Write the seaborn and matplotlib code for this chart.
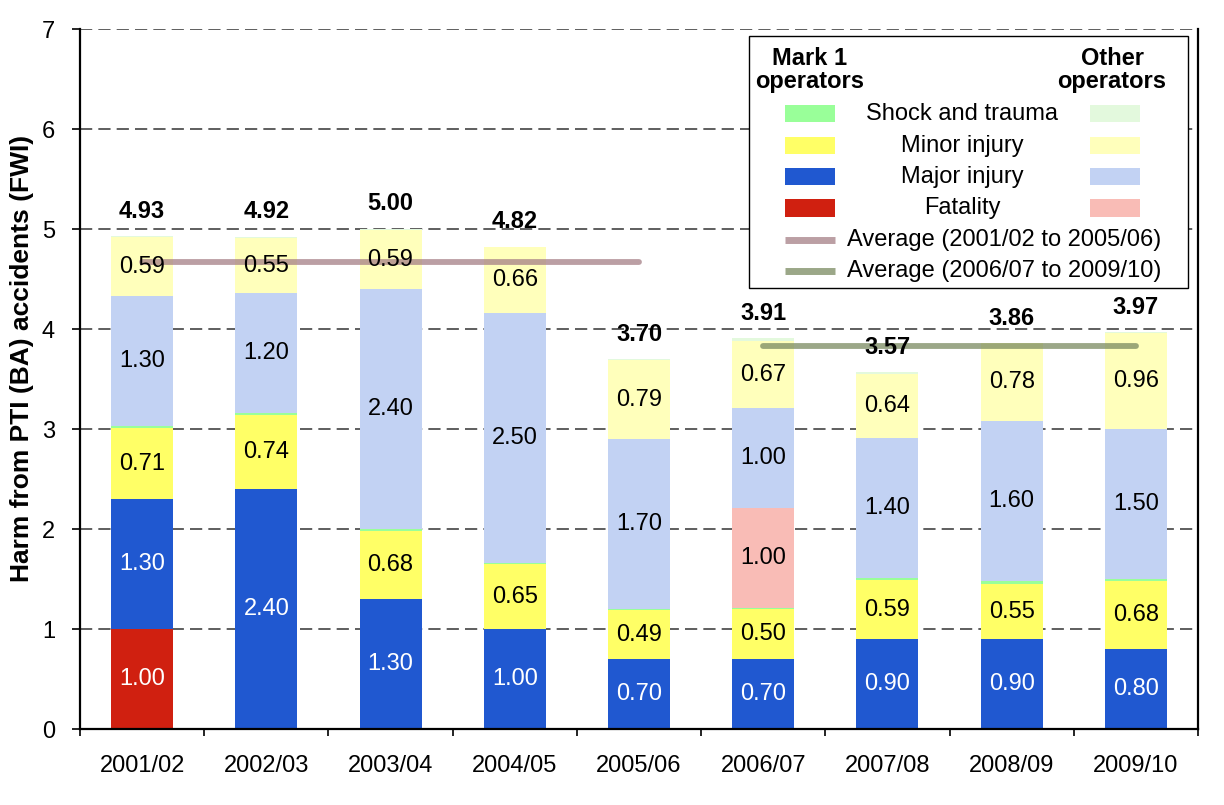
import numpy as np
import pandas as pd
import matplotlib
matplotlib.use("Agg")
import matplotlib.pyplot as plt
from matplotlib.patches import Rectangle
from matplotlib.lines import Line2D
import seaborn as sns

# ---------------- data ----------------
years = ['2001/02', '2002/03', '2003/04', '2004/05', '2005/06',
         '2006/07', '2007/08', '2008/09', '2009/10']
m1_fatal = [1.00, 0, 0, 0, 0, 0, 0, 0, 0]
m1_major = [1.30, 2.40, 1.30, 1.00, 0.70, 0.70, 0.90, 0.90, 0.80]
m1_minor = [0.71, 0.74, 0.68, 0.65, 0.49, 0.50, 0.59, 0.55, 0.68]
m1_shock = [0.02, 0.02, 0.02, 0.01, 0.01, 0.01, 0.02, 0.03, 0.02]
ot_fatal = [0, 0, 0, 0, 0, 1.00, 0, 0, 0]
ot_major = [1.30, 1.20, 2.40, 2.50, 1.70, 1.00, 1.40, 1.60, 1.50]
ot_minor = [0.59, 0.55, 0.59, 0.66, 0.79, 0.67, 0.64, 0.78, 0.96]
ot_shock = [0.01, 0.01, 0.01, 0.00, 0.01, 0.03, 0.02, 0.00, 0.01]
totals = [4.93, 4.92, 5.00, 4.82, 3.70, 3.91, 3.57, 3.86, 3.97]
period1 = ['2001/02', '2005/06']
period2 = ['2006/07', '2009/10']

# ---------------- style ----------------
plt.rcParams['font.family'] = ['Liberation Sans', 'DejaVu Sans']
FS = 17

layers = [
    ('m1_fatal', m1_fatal, '#D02010', 'white'),
    ('m1_major', m1_major, '#2058D0', 'white'),
    ('m1_minor', m1_minor, '#FFFF66', 'black'),
    ('m1_shock', m1_shock, '#99FF99', None),
    ('ot_fatal', ot_fatal, '#F9BCB6', 'black'),
    ('ot_major', ot_major, '#C2D2F3', 'black'),
    ('ot_minor', ot_minor, '#FFFFBB', 'black'),
    ('ot_shock', ot_shock, '#E3F9DD', None),
]

rows = []
cum = np.zeros(len(years))
bottoms = {}
for name, vals, color, tc in layers:
    bottoms[name] = cum.copy()
    cum = cum + np.array(vals, dtype=float)
    for yr, c in zip(years, cum):
        rows.append(dict(year=yr, layer=name, top=c))
df = pd.DataFrame(rows)
palette = {name: color for name, vals, color, tc in layers}
hue_order = [l[0] for l in layers][::-1]

fig = plt.figure(figsize=(12.24, 8.05), dpi=100)
ax = fig.add_axes([80 / 1224, 1 - 729 / 805, 1118 / 1224, 700 / 805])

sns.barplot(data=df, x='year', y='top', hue='layer', hue_order=hue_order,
            order=years, palette=palette, dodge=False, width=0.5,
            saturation=1, errorbar=None, legend=False, linewidth=0, ax=ax)

# segment labels
for name, vals, color, tc in layers:
    if tc is None:
        continue
    for i, v in enumerate(vals):
        if v > 0:
            ax.text(i, bottoms[name][i] + v / 2, f"{v:.2f}", ha='center',
                    va='center', fontsize=FS, color=tc, zorder=6)

# totals
for i, t in enumerate(totals):
    ax.text(i, t + 0.25, f"{t:.2f}", ha='center', va='center', fontsize=FS,
            fontweight='bold', color='black', zorder=7)

# averages
avg1 = np.mean(totals[years.index(period1[0]):years.index(period1[1]) + 1])
avg2 = np.mean(totals[years.index(period2[0]):years.index(period2[1]) + 1])
c_avg1 = '#A57F86'
c_avg2 = '#7A8A60'
ax.plot([years.index(period1[0]), years.index(period1[1])], [avg1, avg1],
        color=c_avg1, alpha=0.75, lw=4.2, solid_capstyle='round', zorder=5)
ax.plot([years.index(period2[0]), years.index(period2[1])], [avg2, avg2],
        color=c_avg2, alpha=0.75, lw=4.2, solid_capstyle='round', zorder=5)

# axes formatting
ax.set_xlim(-0.5, len(years) - 0.5)
ax.set_ylim(0, 7)
ax.set_yticks(range(0, 8))
ax.yaxis.grid(True, linestyle=(0, (8, 4)), color='#333333', linewidth=1.1)
ax.xaxis.grid(False)
ax.set_axisbelow(True)
ax.set_facecolor('white')
for s in ['left', 'bottom', 'right']:
    ax.spines[s].set_visible(True)
    ax.spines[s].set_color('black')
    ax.spines[s].set_linewidth(1.6)
ax.spines['top'].set_visible(False)
ax.tick_params(axis='y', direction='out', length=6, width=1.2, pad=12,
               labelsize=FS, right=False)
ax.tick_params(axis='x', which='major', length=0, pad=19, labelsize=FS)
ax.set_xticks(np.arange(-0.5, len(years), 1.0), minor=True)
ax.tick_params(axis='x', which='minor', direction='out', length=5, width=1.2)
ax.set_xlabel('')
ax.set_ylabel('Harm from PTI (BA) accidents (FWI)', fontsize=19,
              fontweight='bold')
ax.yaxis.set_label_coords(-0.041, 0.53)

# ---------------- legend (manual, axes fraction) ----------------
def fx(px):
    return (px - 80) / 1118

def fy(py):
    return (729 - py) / 700

tr = ax.transAxes
ax.add_patch(Rectangle((fx(749), fy(288)), fx(1188) - fx(749), fy(36) - fy(288),
                       transform=tr, facecolor='white', edgecolor='black',
                       linewidth=1.0, zorder=10))
ax.text(fx(810), fy(70), 'Mark 1\noperators', transform=tr, ha='center',
        va='center', fontsize=FS, fontweight='bold', linespacing=1.0, zorder=11)
ax.text(fx(1112), fy(70), 'Other\noperators', transform=tr, ha='center',
        va='center', fontsize=FS, fontweight='bold', linespacing=1.0, zorder=11)

leg_rows = [
    ('Shock and trauma', '#99FF99', '#E3F9DD', 114),
    ('Minor injury', '#FFFF66', '#FFFFBB', 146),
    ('Major injury', '#2058D0', '#C2D2F3', 177),
    ('Fatality', '#D02010', '#F9BCB6', 208),
]
for lab, c1, c2, py in leg_rows:
    for x0, c in [(785, c1), (1090, c2)]:
        ax.add_patch(Rectangle((fx(x0), fy(py + 8.5)), fx(x0 + 50) - fx(x0),
                               fy(py - 8.5) - fy(py + 8.5), transform=tr,
                               facecolor=c, edgecolor='none', zorder=11))
    ax.text(fx(962), fy(py), lab, transform=tr, ha='center', va='center',
            fontsize=FS, zorder=11)

for lab, c, py in [('Average (2001/02 to 2005/06)', c_avg1, 240),
                   ('Average (2006/07 to 2009/10)', c_avg2, 271)]:
    ax.add_line(Line2D([fx(785), fx(835)], [fy(py), fy(py)], transform=tr,
                       color=c, alpha=0.75, lw=5, solid_capstyle='butt', zorder=11))
    ax.text(fx(847), fy(py), lab, transform=tr, ha='left', va='center',
            fontsize=FS, zorder=11)

fig.savefig('out.png', dpi=100, facecolor='white')
